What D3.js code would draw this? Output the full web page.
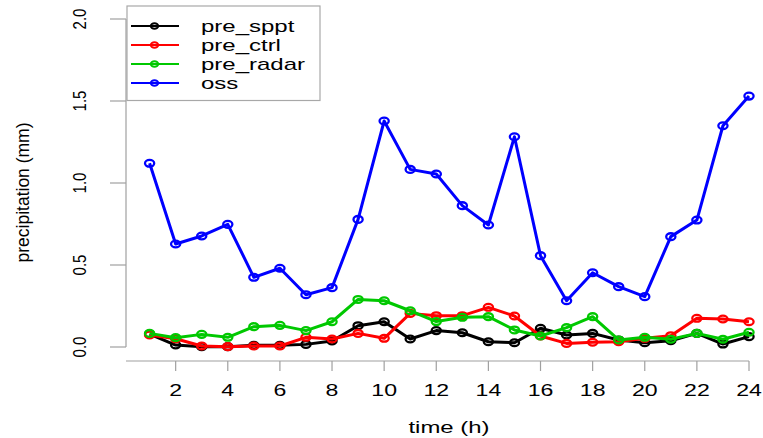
<!DOCTYPE html>
<html>
<head>
<meta charset="utf-8">
<script src="https://cdn.jsdelivr.net/npm/d3@7"></script>
<style>
  body { margin: 0; background: #fff; }
  text { font-family: "Liberation Sans", Arial, sans-serif; fill: #000; }
</style>
</head>
<body>
<div id="chart"></div>
<script>
// hours 1..24
const hours = d3.range(1, 25);
const xTicks = [2, 4, 6, 8, 10, 12, 14, 16, 18, 20, 22, 24];
const yTicks = [0.0, 0.5, 1.0, 1.5, 2.0];

const preSppt = [0.079, 0.012, 0.002, 0.002, 0.010, 0.010, 0.016, 0.037, 0.130, 0.154, 0.049, 0.100,
                 0.087, 0.032, 0.026, 0.114, 0.073, 0.083, 0.043, 0.026, 0.038, 0.083, 0.018, 0.063];
const preCtrl = [0.073, 0.050, 0.006, 0.002, 0.006, 0.006, 0.059, 0.049, 0.083, 0.053, 0.205, 0.191,
                 0.191, 0.242, 0.189, 0.067, 0.022, 0.029, 0.032, 0.053, 0.069, 0.175, 0.171, 0.154];
const preRadar = [0.083, 0.057, 0.077, 0.059, 0.124, 0.132, 0.100, 0.154, 0.290, 0.282, 0.221, 0.155,
                  0.181, 0.185, 0.104, 0.067, 0.118, 0.185, 0.043, 0.059, 0.047, 0.083, 0.047, 0.090];
const oss = [1.120, 0.628, 0.677, 0.748, 0.425, 0.480, 0.319, 0.362, 0.778, 1.378, 1.083, 1.055,
             0.862, 0.744, 1.282, 0.557, 0.282, 0.453, 0.368, 0.307, 0.673, 0.774, 1.349, 1.530];

const seriesNames = ["pre_sppt", "pre_ctrl", "pre_radar", "oss"];
const seriesColors = ["#000000", "#ff0000", "#00c800", "#0000ff"];
const seriesValues = [preSppt, preCtrl, preRadar, oss];

const width = 763;
const height = 438;
const plotLeft = 126;

const x = d3.scaleLinear().domain([1, 24]).range([149.6, 749]);
const y = d3.scaleLinear().domain([0, 2]).range([347, 19]);

const svg = d3.select("#chart")
  .append("svg")
  .attr("width", width)
  .attr("height", height);

// y axis
const yAxis = svg.append("g");
yAxis.append("line")
  .attr("x1", plotLeft).attr("x2", plotLeft)
  .attr("y1", y(2)).attr("y2", y(0))
  .attr("stroke", "#a0a0a0").attr("stroke-width", 1.2);
yAxis.selectAll(".ytick")
  .data(yTicks)
  .enter().append("line")
  .attr("x1", plotLeft - 16).attr("x2", plotLeft)
  .attr("y1", d => y(d)).attr("y2", d => y(d))
  .attr("stroke", "#a0a0a0").attr("stroke-width", 1.2);
yAxis.selectAll(".ylab")
  .data(yTicks)
  .enter().append("text")
  .attr("transform", d => `translate(86,${y(d)}) scale(1.25,1) rotate(-90)`)
  .attr("text-anchor", "middle")
  .style("font-size", "15px")
  .text(d => d.toFixed(1));

svg.append("text")
  .attr("transform", `translate(29,192.5) rotate(-90)`)
  .attr("text-anchor", "middle")
  .style("font-size", "17.5px")
  .text("precipitation (mm)");

// x axis
const xAxisY = 361;
const xAxis = svg.append("g");
xAxis.append("line")
  .attr("x1", plotLeft).attr("x2", x(24))
  .attr("y1", xAxisY).attr("y2", xAxisY)
  .attr("stroke", "#a0a0a0").attr("stroke-width", 1.2);
xAxis.selectAll(".xtick")
  .data(xTicks)
  .enter().append("line")
  .attr("x1", d => x(d)).attr("x2", d => x(d))
  .attr("y1", xAxisY).attr("y2", xAxisY + 10)
  .attr("stroke", "#a0a0a0").attr("stroke-width", 1.2);
xAxis.selectAll(".xlab")
  .data(xTicks)
  .enter().append("text")
  .attr("transform", d => `translate(${x(d)},396) scale(1.4,1)`)
  .attr("text-anchor", "middle")
  .style("font-size", "16.5px")
  .text(d => d);

svg.append("text")
  .attr("transform", `translate(449,433) scale(1.45,1)`)
  .attr("text-anchor", "middle")
  .style("font-size", "16.5px")
  .text("time (h)");

// series: line + open circles (type="o")
const line = d3.line()
  .x((d, i) => x(hours[i]))
  .y(d => y(d));

seriesValues.forEach((vals, k) => {
  const g = svg.append("g");
  g.append("path")
    .datum(vals)
    .attr("d", line)
    .attr("fill", "none")
    .attr("stroke", seriesColors[k])
    .attr("stroke-width", 3)
    .attr("stroke-linejoin", "round");
  g.selectAll("ellipse")
    .data(vals)
    .enter().append("ellipse")
    .attr("cx", (d, i) => x(hours[i]))
    .attr("cy", d => y(d))
    .attr("rx", 4.6)
    .attr("ry", 3.4)
    .attr("fill", "none")
    .attr("stroke", seriesColors[k])
    .attr("stroke-width", 2.3);
});

// legend
const legend = svg.append("g");
legend.append("rect")
  .attr("x", 127).attr("y", 6)
  .attr("width", 193).attr("height", 94.5)
  .attr("fill", "#fff")
  .attr("stroke", "#a8a8a8").attr("stroke-width", 1.2);

const rows = legend.selectAll(".row")
  .data(seriesNames)
  .enter().append("g")
  .attr("transform", (d, i) => `translate(0,${26 + i * 19})`);
rows.append("line")
  .attr("x1", 131).attr("x2", 179)
  .attr("y1", 0).attr("y2", 0)
  .attr("stroke", (d, i) => seriesColors[i])
  .attr("stroke-width", 2.2);
rows.append("ellipse")
  .attr("cx", 154.5).attr("cy", 0)
  .attr("rx", 3.7).attr("ry", 2.7)
  .attr("fill", "none")
  .attr("stroke", (d, i) => seriesColors[i])
  .attr("stroke-width", 2);
rows.append("text")
  .attr("transform", "translate(201,5.5) scale(1.5,1)")
  .style("font-size", "16px")
  .text(d => d);
</script>
</body>
</html>
